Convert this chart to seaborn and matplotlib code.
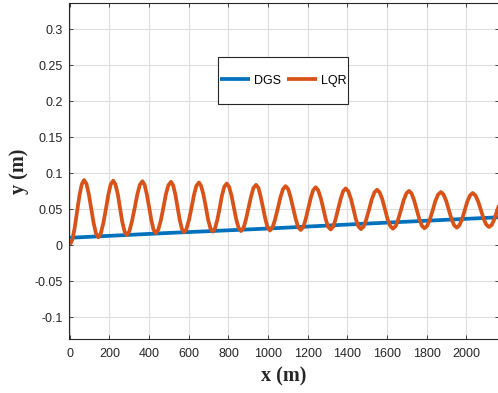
import matplotlib
matplotlib.use("Agg")
import matplotlib.pyplot as plt
from matplotlib.patches import Rectangle
from matplotlib.ticker import FuncFormatter
import pandas as pd
import seaborn as sns

# Lateral offset y (m) against travelled distance x (m)
dgs_x = [0, 500, 1000, 1500, 2160]
dgs_y = [0.0105, 0.0172, 0.0233, 0.0302, 0.0389]

lqr_x = [
    0, 12, 24, 36, 48, 60, 72,
    84, 96, 108, 120, 132, 144,
    156, 169, 182, 194, 206, 219,
    230, 242, 253, 264, 276, 287,
    300, 313, 327, 340, 353, 366,
    377, 388, 400, 411, 422, 433,
    446, 459, 472, 484, 497, 510,
    521, 532, 543, 554, 565, 576,
    588, 601, 614, 626, 638, 651,
    662, 674, 686, 697, 709, 720,
    732, 744, 756, 767, 779, 791,
    803, 815, 827, 839, 851, 863,
    876, 888, 901, 914, 926, 939,
    951, 962, 974, 986, 997, 1009,
    1022, 1035, 1049, 1062, 1075, 1088,
    1101, 1113, 1126, 1139, 1151, 1164,
    1177, 1189, 1202, 1215, 1227, 1240,
    1252, 1265, 1278, 1290, 1302, 1315,
    1328, 1340, 1353, 1366, 1378, 1391,
    1404, 1417, 1430, 1442, 1455, 1468,
    1482, 1495, 1509, 1522, 1536, 1549,
    1562, 1576, 1589, 1602, 1616, 1629,
    1643, 1656, 1670, 1683, 1697, 1710,
    1723, 1736, 1749, 1762, 1775, 1788,
    1802, 1816, 1830, 1843, 1857, 1871,
    1884, 1898, 1911, 1924, 1938, 1951,
    1964, 1978, 1991, 2004, 2018, 2031,
    2045, 2059, 2073, 2086, 2100, 2114,
    2128, 2141, 2155, 2169,
]
lqr_y = [
    0.0010, 0.0070, 0.0234, 0.0458, 0.0682, 0.0846, 0.0906,
    0.0853, 0.0707, 0.0508, 0.0310, 0.0164, 0.0111,
    0.0164, 0.0308, 0.0505, 0.0701, 0.0845, 0.0898,
    0.0847, 0.0709, 0.0520, 0.0332, 0.0194, 0.0143,
    0.0193, 0.0330, 0.0517, 0.0703, 0.0840, 0.0890,
    0.0842, 0.0710, 0.0530, 0.0350, 0.0218, 0.0170,
    0.0218, 0.0348, 0.0526, 0.0704, 0.0834, 0.0882,
    0.0835, 0.0707, 0.0531, 0.0356, 0.0228, 0.0181,
    0.0227, 0.0354, 0.0527, 0.0699, 0.0826, 0.0872,
    0.0826, 0.0701, 0.0531, 0.0360, 0.0236, 0.0190,
    0.0235, 0.0357, 0.0524, 0.0691, 0.0813, 0.0858,
    0.0814, 0.0693, 0.0528, 0.0363, 0.0242, 0.0198,
    0.0241, 0.0359, 0.0519, 0.0680, 0.0797, 0.0840,
    0.0798, 0.0681, 0.0523, 0.0364, 0.0248, 0.0206,
    0.0247, 0.0360, 0.0514, 0.0668, 0.0781, 0.0822,
    0.0781, 0.0670, 0.0517, 0.0365, 0.0254, 0.0213,
    0.0253, 0.0361, 0.0510, 0.0658, 0.0766, 0.0806,
    0.0767, 0.0659, 0.0513, 0.0366, 0.0259, 0.0220,
    0.0258, 0.0363, 0.0505, 0.0648, 0.0752, 0.0790,
    0.0752, 0.0649, 0.0507, 0.0366, 0.0263, 0.0225,
    0.0262, 0.0362, 0.0499, 0.0635, 0.0735, 0.0772,
    0.0736, 0.0637, 0.0501, 0.0366, 0.0267, 0.0231,
    0.0266, 0.0362, 0.0494, 0.0625, 0.0721, 0.0756,
    0.0721, 0.0626, 0.0496, 0.0367, 0.0272, 0.0237,
    0.0271, 0.0363, 0.0489, 0.0614, 0.0706, 0.0740,
    0.0707, 0.0616, 0.0492, 0.0369, 0.0278, 0.0245,
    0.0277, 0.0365, 0.0486, 0.0606, 0.0694, 0.0726,
    0.0694, 0.0608, 0.0490, 0.0372, 0.0286, 0.0254,
    0.0285, 0.0369, 0.0483, 0.0598,
]

series_names = ["DGS", "LQR"]
series_colors = ["#0072BD", "#D95319"]

x_ticks = list(range(0, 2001, 200))
y_ticks = [-0.1, -0.05, 0, 0.05, 0.1, 0.15, 0.2, 0.25, 0.3]

sns.set_style("ticks")
plt.rcParams["font.family"] = ["Liberation Sans", "DejaVu Sans"]
plt.rcParams["axes.unicode_minus"] = False

ink = "#262626"
fig = plt.figure(figsize=(4.98, 3.93), dpi=100)
ax = fig.add_axes([0.138, 0.1374, 0.864, 0.8542])

dgs = pd.DataFrame({"x": dgs_x, "y": dgs_y})
lqr = pd.DataFrame({"x": lqr_x, "y": lqr_y})
sns.lineplot(data=dgs, x="x", y="y", ax=ax, color=series_colors[0],
             linewidth=2.7, label=series_names[0], sort=False)
sns.lineplot(data=lqr, x="x", y="y", ax=ax, color=series_colors[1],
             linewidth=2.7, label=series_names[1], sort=False)
for ln in ax.get_lines():
    ln.set_solid_joinstyle("round")
    ln.set_solid_capstyle("butt")

ax.set_xlim(-5.5, 2164)
ax.set_ylim(-0.1301, 0.3361)
ax.set_xticks(x_ticks)
ax.set_yticks(y_ticks)
ax.yaxis.set_major_formatter(FuncFormatter(lambda v, p: "%g" % round(v, 4)))
ax.xaxis.set_major_formatter(FuncFormatter(lambda v, p: "%g" % v))

ax.grid(True, color="#dedede", linewidth=0.8)
ax.set_axisbelow(True)
for s in ax.spines.values():
    s.set_visible(True)
    s.set_color(ink)
    s.set_linewidth(0.8)
ax.tick_params(which="both", direction="in", length=3, width=0.6,
               colors=ink, labelsize=9, top=True, right=True,
               labeltop=False, labelright=False)
ax.tick_params(axis="y", pad=4.3)
ax.tick_params(axis="x", pad=6.5)

label_font = dict(family=["Liberation Serif", "DejaVu Serif"],
                  weight="bold", size=14.5, color=ink)
ax.set_xlabel("x (m)", labelpad=5, **label_font)
ax.set_ylabel("y (m)", labelpad=4, **label_font)

# legend box: a plain white rectangle with the entries centred inside it
box_x0, box_y0, box_w, box_h = 0.3477, 0.699, 0.302, 0.140
ax.add_patch(Rectangle((box_x0, box_y0), box_w, box_h, transform=ax.transAxes,
                       facecolor="white", edgecolor=ink, linewidth=0.8,
                       zorder=4.5))
leg = ax.legend(loc="center",
                bbox_to_anchor=(box_x0 + box_w / 2, box_y0 + box_h / 2),
                borderaxespad=0, ncol=2, fontsize=9, frameon=False,
                handlelength=2.4, handletextpad=0.35, columnspacing=0.45,
                borderpad=0.2)
leg.set_zorder(5)
for t in leg.get_texts():
    t.set_color("black")

fig.savefig("out.png", dpi=100)
